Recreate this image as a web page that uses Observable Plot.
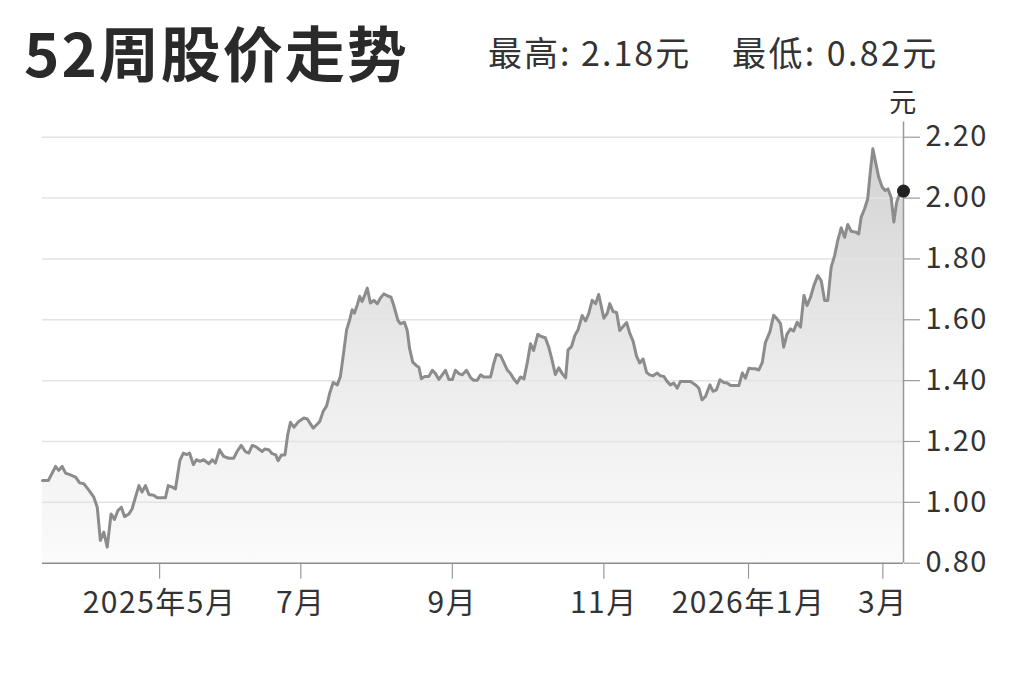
<!DOCTYPE html>
<html>
<head>
<meta charset="utf-8">
<script src="https://cdn.jsdelivr.net/npm/d3@7"></script>
<script src="https://cdn.jsdelivr.net/npm/@observablehq/plot@0.6"></script>
<style>
  body { margin: 0; background: #fff; font-family: "Noto Sans CJK SC", "Noto Sans", sans-serif; color: #333; }
  #wrap { position: relative; width: 1023px; height: 682px; overflow: hidden; background: #fff; }
  #header { position: relative; height: 90px; }
  #title { position: absolute; left: 24px; top: 21px; font-size: 60px; line-height: 60px; font-weight: 700; letter-spacing: 2px; color: #2a2a2a; white-space: nowrap; }
  .stat { position: absolute; top: 35px; font-size: 34px; line-height: 34px; letter-spacing: 2px; color: #333; white-space: nowrap; }
  #chart svg text { letter-spacing: 1.5px; }
</style>
</head>
<body>
<div id="wrap">
  <div id="header">
    <div id="title"></div>
    <div class="stat" id="hi" style="left:488px"></div>
    <div class="stat" id="lo" style="left:732px; letter-spacing: 2.4px"></div>
  </div>
  <div id="chart"></div>
</div>
<script>
// ---- data ----
const titleText = "52周股价走势";
const unitText = "元";
const highPrice = 2.18;
const lowPrice = 0.82;

// trading-day index (0 = start of the 52-week window, 250 = latest)
const day = [
  0,1.7,3.8,4.7,5.7,6.7,8.1,9.6,10.8,12.0,
  13.4,14.9,15.9,16.8,17.8,18.8,19.9,20.9,21.9,22.9,
  23.8,25.1,26.0,27.0,28.0,28.9,29.9,30.9,32.3,33.3,
  35.7,36.5,37.7,38.6,39.9,40.9,41.8,42.7,43.8,44.7,
  45.7,
  46.8,48.3,49.3,50.2,51.4,52.6,54.1,55.5,56.5,57.7,
  58.9,59.9,60.9,61.8,63.1,63.8,64.5,65.7,66.7,67.7,
  68.4,69.4,70.4,71.2,72.0,73.0,74.4,75.9,76.9,77.8,
  78.6,79.6,80.5,81.5,82.5,83.4,84.4,85.6,86.5,87.3,
  88.3,89.2,89.9,90.6,91.4,92.1,92.8,93.6,94.3,95.2,
  96.2,97.2,98.1,99.1,100.1,101.2,
  102.0,103.2,103.9,105.1,105.9,106.6,107.5,108.5,109.3,110.0,
  111.0,112.2,113.2,114.1,115.1,116.1,117.0,118.0,119.0,119.9,
  120.9,121.9,123.1,124.3,125.2,126.2,127.2,128.1,130.1,131.0,
  131.8,133.0,133.9,134.9,135.9,136.8,137.8,138.8,139.8,140.7,
  141.7,142.6,143.8,144.8,146.0,147.0,148.0,148.9,149.9,150.9,
  151.9,152.6,153.6,154.6,155.5,156.7,157.7,158.6,159.6,160.6,
  161.5,
  163.0,164.0,164.7,165.7,166.7,167.6,168.6,169.6,170.5,171.5,
  172.5,173.4,174.4,175.4,176.3,177.3,178.5,179.4,180.4,181.4,
  182.3,183.3,184.3,185.2,186.7,188.2,189.6,190.6,191.5,192.5,
  193.8,194.7,195.7,196.7,197.8,198.8,199.8,201.2,202.2,203.2,
  204.1,205.1,
  206.1,207.0,208.0,209.0,209.9,211.2,212.3,213.3,214.3,215.2,
  216.2,217.2,218.1,219.1,220.1,221.1,222.0,223.0,224.0,225.1,
  226.1,227.1,228.0,229.0,230.0,230.9,231.9,232.9,233.8,234.8,
  236.1,237.0,237.7,238.7,239.6,240.4,241.1,241.8,242.8,243.8,
  244.7,245.5,246.4,247.2,248.0,248.9,250
];
// closing price (元)
const close = [
  1.072,1.072,1.118,1.105,1.118,1.096,1.090,1.083,1.064,1.061,
  1.041,1.017,0.984,0.875,0.902,0.853,0.962,0.944,0.973,0.984,
  0.953,0.962,0.978,1.017,1.055,1.034,1.055,1.026,1.023,1.015,
  1.015,1.055,1.050,1.044,1.138,1.162,1.157,1.162,1.124,1.140,
  1.135,
  1.140,1.127,1.140,1.129,1.173,1.151,1.145,1.145,1.167,1.187,
  1.167,1.162,1.187,1.184,1.173,1.167,1.175,1.173,1.160,1.156,
  1.137,1.156,1.156,1.222,1.263,1.247,1.266,1.277,1.274,1.258,
  1.244,1.255,1.266,1.299,1.317,1.359,1.394,1.386,1.414,1.480,
  1.567,1.600,1.633,1.622,1.649,1.677,1.660,1.682,1.704,1.655,
  1.664,1.653,1.671,1.685,1.679,1.674,
  1.647,1.598,1.587,1.592,1.565,1.505,1.461,1.450,1.444,1.406,
  1.414,1.414,1.434,1.423,1.404,1.420,1.434,1.404,1.404,1.434,
  1.423,1.419,1.434,1.410,1.401,1.401,1.419,1.412,1.412,1.455,
  1.486,1.482,1.461,1.436,1.423,1.406,1.392,1.412,1.406,1.455,
  1.521,1.499,1.552,1.545,1.541,1.510,1.466,1.420,1.442,1.423,
  1.409,1.501,1.512,1.549,1.567,1.614,1.596,1.620,1.664,1.653,
  1.683,
  1.605,1.622,1.653,1.627,1.624,1.565,1.578,1.591,1.556,1.529,
  1.480,1.458,1.471,1.427,1.419,1.416,1.425,1.416,1.414,1.397,
  1.386,1.392,1.375,1.397,1.397,1.397,1.386,1.375,1.337,1.348,
  1.386,1.365,1.370,1.403,1.394,1.392,1.384,1.384,1.384,1.425,
  1.408,1.441,
  1.439,1.439,1.435,1.460,1.525,1.560,1.615,1.603,1.587,1.510,
  1.554,1.570,1.563,1.592,1.576,1.680,1.647,1.674,1.713,1.745,
  1.729,1.663,1.663,1.773,1.811,1.860,1.902,1.871,1.913,1.891,
  1.888,1.882,1.937,1.965,1.997,2.090,2.162,2.123,2.069,2.036,
  2.025,2.030,2.003,1.921,1.986,2.014,2.023
];

// month ticks (trading-day index of the first session of the month)
const monthTickDays = [34, 75, 119, 163, 205, 244];
const monthTickLabels = ["2025年5月", "7月", "9月", "11月", "2026年1月", "3月"];
const priceTicks = [0.8, 1.0, 1.2, 1.4, 1.6, 1.8, 2.0, 2.2];

// ---- header ----
document.getElementById("title").textContent = titleText;
document.getElementById("hi").textContent = "最高: " + highPrice.toFixed(2) + unitText;
document.getElementById("lo").textContent = "最低: " + lowPrice.toFixed(2) + unitText;

// ---- chart ----
const data = day.map((d, i) => ({day: d, close: close[i]}));
const last = data[data.length - 1];
const labelByDay = new Map(monthTickDays.map((d, i) => [d, monthTickLabels[i]]));
const font = '"Noto Sans CJK SC", "Noto Sans", sans-serif';

const chart = Plot.plot({
  width: 1023,
  height: 592,
  marginLeft: 42,
  marginRight: 120,
  marginTop: 31.5,
  marginBottom: 119.3,
  style: {fontFamily: font, color: "#333", background: "#fff", overflow: "visible"},
  x: {domain: [0, 250]},
  y: {domain: [0.8, 2.25]},
  marks: [
    Plot.areaY(data, {x: "day", y1: 0.8, y2: "close", fill: "url(#priceFill)"}),
    Plot.ruleY(priceTicks.slice(1), {stroke: "#e3e3e3", strokeWidth: 1.5}),
    Plot.lineY(data, {x: "day", y: "close", stroke: "#8c8c8c", strokeWidth: 3, strokeLinejoin: "round", strokeLinecap: "round"}),
    Plot.ruleY([0.8], {stroke: "#8c8c8c", strokeWidth: 1.6}),
    Plot.ruleX([250], {stroke: "#999", strokeWidth: 1.5}),
    Plot.axisX({
      ticks: monthTickDays,
      tickFormat: d => labelByDay.get(d),
      tickSize: 16,
      tickPadding: 12,
      fontSize: 30,
      stroke: "#999",
      strokeWidth: 1.2,
      fill: "#333",
      label: null
    }),
    Plot.axisY({
      anchor: "right",
      ticks: priceTicks,
      tickFormat: d3.format(".2f"),
      tickSize: 16,
      tickPadding: 6,
      fontSize: 29,
      stroke: "#999",
      strokeWidth: 1.2,
      fill: "#333",
      label: null
    }),
    Plot.dot([last], {x: "day", y: "close", r: 6.5, fill: "#222", stroke: "none"}),
    Plot.text([unitText], {x: 250, y: 2.25, dy: -19, text: d => d, fontSize: 27, fill: "#333"})
  ]
});

const defs = d3.select(chart).insert("defs", ":first-child");
const grad = defs.append("linearGradient")
  .attr("id", "priceFill").attr("x1", 0).attr("y1", 0).attr("x2", 0).attr("y2", 1);
grad.append("stop").attr("offset", "0%").attr("stop-color", "#d3d3d3");
grad.append("stop").attr("offset", "55%").attr("stop-color", "#ececec");
grad.append("stop").attr("offset", "100%").attr("stop-color", "#fbfbfb");

document.getElementById("chart").appendChild(chart);
</script>
</body>
</html>
